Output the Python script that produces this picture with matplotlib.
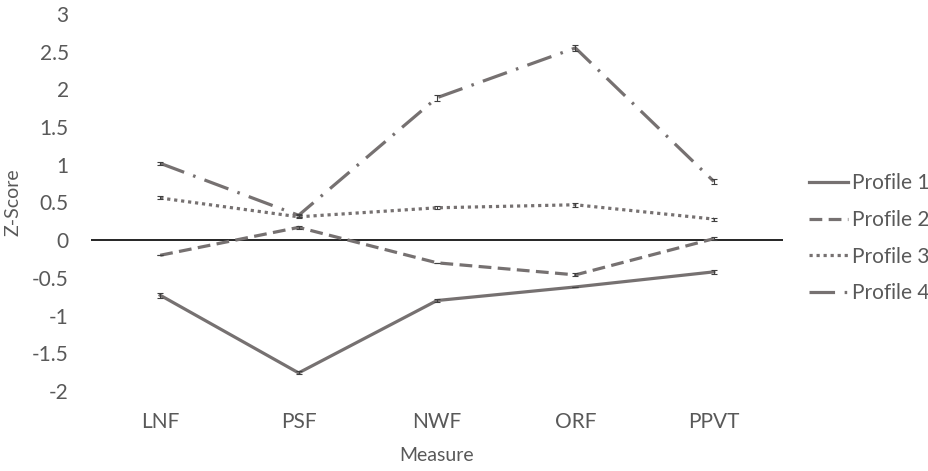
## Z-score profiles by measure
import numpy as np
import matplotlib.pyplot as plt

plt.rcParams['font.family'] = ['Lato', 'DejaVu Sans']

## Data
measures = ['LNF', 'PSF', 'NWF', 'ORF', 'PPVT']
profile_1 = [-0.73, -1.76, -0.80, -0.62, -0.42]
profile_2 = [-0.20, 0.17, -0.30, -0.46, 0.02]
profile_3 = [0.56, 0.31, 0.43, 0.47, 0.28]
profile_4 = [1.02, 0.33, 1.89, 2.55, 0.78]
err_1 = [0.03, 0.02, 0.02, 0.0, 0.03]
err_2 = [0.0, 0.02, 0.0, 0.02, 0.02]
err_3 = [0.02, 0.02, 0.02, 0.03, 0.02]
err_4 = [0.02, 0.02, 0.04, 0.04, 0.03]
labels = ['Profile 1', 'Profile 2', 'Profile 3', 'Profile 4']

line_col = '#767171'
text_col = '#595959'
styles = ['-', (0, (4, 2)), (0, (1, 1.2)), (0, (8, 3, 0.8, 3))]

fig = plt.figure(figsize=(9.29, 4.71), dpi=100)
ax = fig.add_axes([91 / 929, 80 / 471, 692 / 929, 377 / 471])

x = np.arange(len(measures))
series = [profile_1, profile_2, profile_3, profile_4]
errs = [err_1, err_2, err_3, err_4]
ax.axhline(0, color='black', lw=1.2, zorder=1)
for vals, err, ls, lab in zip(series, errs, styles, labels):
    ax.plot(x, vals, color=line_col, lw=2.3, linestyle=ls, label=lab,
            dash_capstyle='butt', zorder=2)
    ax.errorbar(x, vals, yerr=err, fmt='none', ecolor='#404040',
                elinewidth=0.8, capsize=2.5, capthick=0.8, zorder=3)

ax.set_xlim(-0.5, len(measures) - 0.5)
ax.set_ylim(-2, 3)
ax.set_yticks(np.arange(-2, 3.01, 0.5))
ax.set_yticklabels(['-2', '-1.5', '-1', '-0.5', '0', '0.5', '1', '1.5', '2', '2.5', '3'])
ax.set_xticks(x)
ax.set_xticklabels(measures)
ax.tick_params(length=0, labelsize=15, colors=text_col)
ax.tick_params(axis='y', pad=16)
ax.tick_params(axis='x', pad=15)
for s in ax.spines.values():
    s.set_visible(False)

ax.set_xlabel('Measure', fontsize=14, color=text_col, labelpad=11)
ax.set_ylabel('Z-Score', fontsize=14, color=text_col)
ax.yaxis.set_label_coords(-0.1, 0.5)

ax.legend(loc='center left', bbox_to_anchor=(1.01, 0.405), frameon=False,
          fontsize=15, labelcolor=text_col, handlelength=1.9,
          handletextpad=0.2, labelspacing=0.8)

fig.savefig('out.png', dpi=100)
